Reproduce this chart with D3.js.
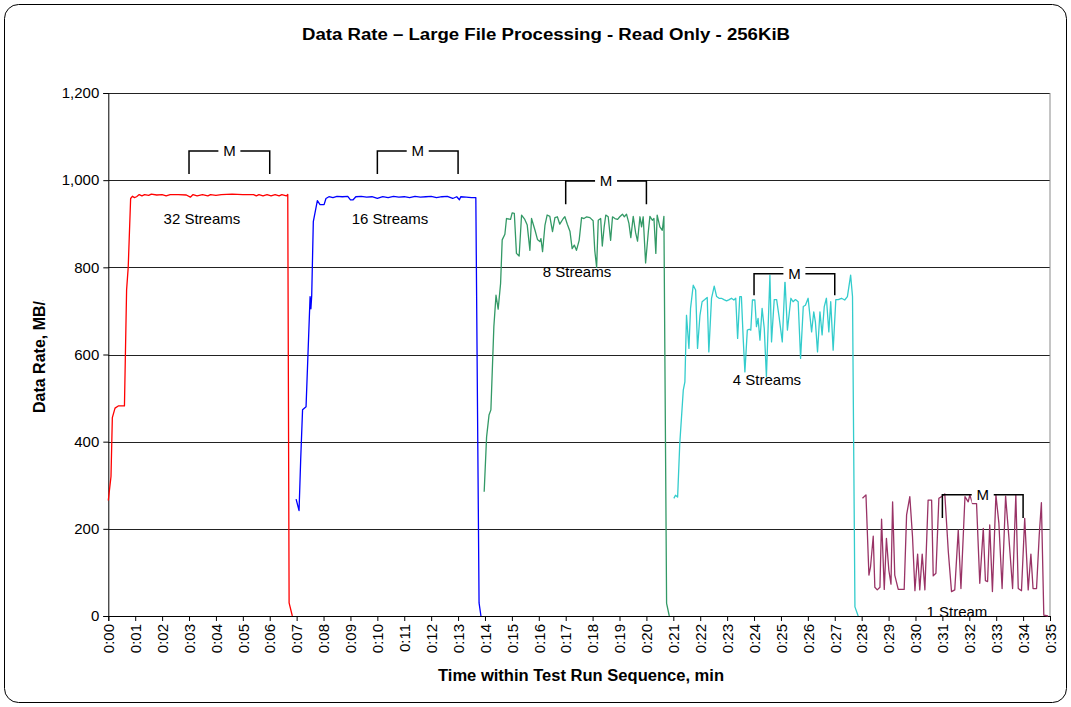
<!DOCTYPE html>
<html><head><meta charset="utf-8">
<script src="https://cdn.jsdelivr.net/npm/d3@7"></script>
<style>body{margin:0;background:#fff} text{font-family:Arial,"Liberation Sans",sans-serif;fill:#000}</style>
</head><body><svg id="c" width="1071" height="707"></svg>
<script>
const title = "Data Rate \u2013 Large File Processing - Read Only - 256KiB";
const xLabel = "Time within Test Run Sequence, min";
const yLabel = "Data Rate, MB/s";
const yTicks = [0, 200, 400, 600, 800, 1000, 1200];
const xTicks = d3.range(0, 36);

// [minute, MB/s]
const s32 = [[0,265],[0.1,320],[0.15,455],[0.25,477],[0.37,482],[0.6,482],[0.68,748],[0.74,800],[0.83,958],[0.9,963],[0.97,960],[1.05,962],[1.15,967],[1.25,964],[1.35,967],[1.5,965],[1.6,968],[1.8,966],[2.0,967],[2.15,964],[2.3,967],[2.6,967],[2.9,966],[3.05,961],[3.15,967],[3.3,964],[3.5,967],[3.7,964],[3.8,967],[4.0,965],[4.2,967],[4.6,968],[5.0,967],[5.4,967],[5.5,964],[5.6,967],[5.75,964],[5.9,967],[6.05,964],[6.2,967],[6.35,964],[6.45,967],[6.62,964],[6.67,967],[6.72,30],[6.84,0]];
const s16 = [[6.98,268],[7.09,242],[7.15,358],[7.22,473],[7.35,480],[7.5,733],[7.53,705],[7.56,735],[7.62,905],[7.77,953],[7.87,944],[8.02,944],[8.09,958],[8.2,962],[8.35,960],[8.5,963],[8.7,962],[8.9,963],[9.0,955],[9.1,955],[9.2,962],[9.4,963],[9.6,961],[9.8,962],[10.0,958],[10.2,962],[10.4,960],[10.6,963],[10.8,961],[11.0,962],[11.2,960],[11.4,963],[11.6,961],[11.8,962],[12.0,963],[12.2,960],[12.4,962],[12.6,963],[12.8,958],[12.95,962],[13.05,955],[13.1,962],[13.3,961],[13.5,960],[13.66,960],[13.78,30],[13.85,0]];
const s8 = [[13.97,285],[14.06,411],[14.15,461],[14.22,473],[14.33,664],[14.41,736],[14.49,704],[14.58,763],[14.64,863],[14.74,876],[14.8,912],[14.95,910],[15.01,925],[15.09,924],[15.17,832],[15.27,826],[15.36,920],[15.48,910],[15.57,897],[15.67,839],[15.73,912],[15.86,885],[15.95,864],[16.04,859],[16.08,866],[16.14,836],[16.23,897],[16.31,920],[16.41,917],[16.51,882],[16.6,914],[16.69,916],[16.78,899],[16.91,912],[16.97,916],[17.06,899],[17.16,882],[17.24,843],[17.32,851],[17.4,839],[17.5,862],[17.59,914],[17.68,912],[17.78,916],[17.9,914],[18.02,907],[18.08,839],[18.15,800],[18.21,908],[18.3,912],[18.36,849],[18.43,893],[18.49,920],[18.58,916],[18.67,862],[18.74,916],[18.83,912],[18.93,910],[19.01,916],[19.11,922],[19.18,916],[19.26,922],[19.35,901],[19.42,868],[19.51,917],[19.6,879],[19.67,860],[19.76,916],[19.82,893],[19.88,916],[19.97,810],[20.07,881],[20.13,917],[20.22,908],[20.28,912],[20.35,832],[20.4,920],[20.5,893],[20.59,885],[20.65,917],[20.75,29],[20.85,0]];
const s4 = [[21.02,270],[21.08,277],[21.16,273],[21.24,396],[21.37,518],[21.43,537],[21.49,690],[21.58,614],[21.64,706],[21.74,759],[21.83,748],[21.9,614],[21.99,690],[22.07,721],[22.17,726],[22.26,731],[22.32,606],[22.42,729],[22.52,757],[22.61,733],[22.7,729],[22.79,729],[22.88,726],[22.98,723],[23.08,726],[23.16,729],[23.25,725],[23.32,729],[23.39,637],[23.47,733],[23.53,733],[23.6,633],[23.66,560],[23.75,656],[23.82,658],[23.88,656],[23.94,725],[24.03,725],[24.09,664],[24.15,683],[24.22,633],[24.3,706],[24.38,660],[24.46,549],[24.59,782],[24.65,629],[24.75,726],[24.84,726],[24.93,687],[25.05,629],[25.15,771],[25.24,656],[25.37,729],[25.45,721],[25.54,726],[25.64,721],[25.73,591],[25.83,710],[25.91,713],[26.01,729],[26.14,652],[26.22,698],[26.28,675],[26.36,606],[26.45,698],[26.53,645],[26.61,710],[26.69,729],[26.78,652],[26.85,721],[26.94,610],[27.04,726],[27.13,726],[27.25,729],[27.37,725],[27.47,733],[27.59,782],[27.66,733],[27.75,21],[27.87,0]];
const s1 = [[28.03,270],[28.16,278],[28.27,94],[28.33,113],[28.43,183],[28.49,66],[28.58,60],[28.68,66],[28.74,222],[28.84,61],[28.92,178],[29.01,105],[29.09,73],[29.15,262],[29.23,94],[29.36,61],[29.48,61],[29.58,61],[29.67,232],[29.79,274],[29.89,182],[29.98,58],[30.08,142],[30.16,60],[30.25,142],[30.35,60],[30.47,266],[30.6,266],[30.66,92],[30.76,98],[30.87,270],[30.97,274],[31.09,280],[31.22,148],[31.34,56],[31.46,60],[31.59,197],[31.69,63],[31.84,274],[31.96,262],[32.02,278],[32.12,258],[32.27,258],[32.39,75],[32.52,201],[32.6,81],[32.68,79],[32.76,209],[32.86,56],[32.99,278],[33.1,213],[33.22,63],[33.35,275],[33.47,182],[33.61,63],[33.73,278],[33.82,63],[33.94,58],[34.06,224],[34.19,60],[34.29,142],[34.37,63],[34.5,63],[34.6,186],[34.68,260],[34.77,2],[34.93,0]];

const seriesList = [
  {data: s32, color: "#ff0000"},
  {data: s16, color: "#0000ff"},
  {data: s8, color: "#339966"},
  {data: s4, color: "#33cccc"},
  {data: s1, color: "#993366"}
];
// measurement-window brackets: [from, to, top value, bottom value]
const brackets = [[3,6,1067,1014],[10,13,1067,1014],[17,20,998,945],[24,27,785,736],[31,34,278,225]];
// stream labels: [text, centre minute, baseline value]
const streamLabels = [["32 Streams",3.48,900],["16 Streams",10.47,900],["8 Streams",17.42,778],["4 Streams",24.48,529],["1 Stream",31.54,-2]];

const svg = d3.select("#c");
svg.append("rect").attr("x",4.5).attr("y",4.5).attr("width",1062).attr("height",698).attr("rx",14)
  .attr("fill","#fff").attr("stroke","#000").attr("stroke-width",1);

const L = 108.3, R = 1050, T = 93, B = 616;
const x = d3.scaleLinear().domain([0,35]).range([L,R]);
const y = d3.scaleLinear().domain([0,1200]).range([B,T]);

// gridlines
svg.append("g").selectAll("line").data(yTicks.filter(d=>d>0)).join("line")
  .attr("x1",L).attr("x2",R).attr("y1",d=>Math.round(y(d))+0.5).attr("y2",d=>Math.round(y(d))+0.5)
  .attr("stroke","#222").attr("stroke-width",1);
svg.append("line").attr("x1",R).attr("x2",R).attr("y1",T).attr("y2",B).attr("stroke","#8a8a8a");

// axes
const yAxis = d3.axisLeft(y).tickValues(yTicks).tickSize(5).tickPadding(4).tickFormat(d3.format(","));
const gy = svg.append("g").attr("transform",`translate(${L},0)`).call(yAxis);
gy.selectAll("text").attr("font-size",15).attr("font-family","Arial");
gy.select(".domain").attr("stroke","#000");
const fmt = m => "0:" + String(m).padStart(2,"0");
const xAxis = d3.axisBottom(x).tickValues(xTicks).tickSize(5).tickFormat(fmt);
const gx = svg.append("g").attr("transform",`translate(0,${B})`).call(xAxis);
gx.select(".domain").attr("stroke","#000");
gx.selectAll("text").attr("font-size",15).attr("font-family","Arial")
  .attr("transform","rotate(-90)").attr("text-anchor","end").attr("x",-8).attr("y",0).attr("dy","0.35em");

// series
const line = d3.line().x(d=>x(d[0])).y(d=>y(d[1]));
svg.append("g").selectAll("path").data(seriesList).join("path")
  .attr("d",d=>line(d.data)).attr("fill","none").attr("stroke",d=>d.color).attr("stroke-width",1.3)
  .attr("stroke-linejoin","round");

// brackets
const bg = svg.append("g");
brackets.forEach(b=>{
  bg.append("path").attr("d",`M${x(b[0])},${y(b[3])}V${y(b[2])}H${x(b[1])}V${y(b[3])}`)
    .attr("fill","none").attr("stroke","#000").attr("stroke-width",1.5);
  const cx = x((b[0]+b[1])/2);
  bg.append("rect").attr("x",cx-11).attr("y",y(b[2])-8).attr("width",22).attr("height",16).attr("fill","#fff");
  bg.append("text").attr("x",cx).attr("y",y(b[2])+5).attr("text-anchor","middle").attr("font-size",15).text("M");
});

// stream labels
svg.append("g").selectAll("text").data(streamLabels).join("text")
  .attr("x",d=>x(d[1])).attr("y",d=>y(d[2])).attr("text-anchor","middle").attr("font-size",15)
  .text(d=>d[0]);

// titles
svg.append("text").attr("x",546).attr("y",40).attr("text-anchor","middle").attr("font-size",16)
  .attr("font-weight","bold").attr("textLength",488).attr("lengthAdjust","spacingAndGlyphs").text(title);
svg.append("text").attr("x",581).attr("y",681).attr("text-anchor","middle").attr("font-size",16)
  .attr("font-weight","bold").attr("textLength",286).attr("lengthAdjust","spacingAndGlyphs").text(xLabel);
svg.append("clipPath").attr("id","yclip").append("rect").attr("x",0).attr("y",300).attr("width",100).attr("height",200);
svg.append("g").attr("clip-path","url(#yclip)").append("text").attr("transform","translate(45,413) rotate(-90)")
  .attr("font-size",16).attr("font-weight","bold").text(yLabel);
</script></body></html>
